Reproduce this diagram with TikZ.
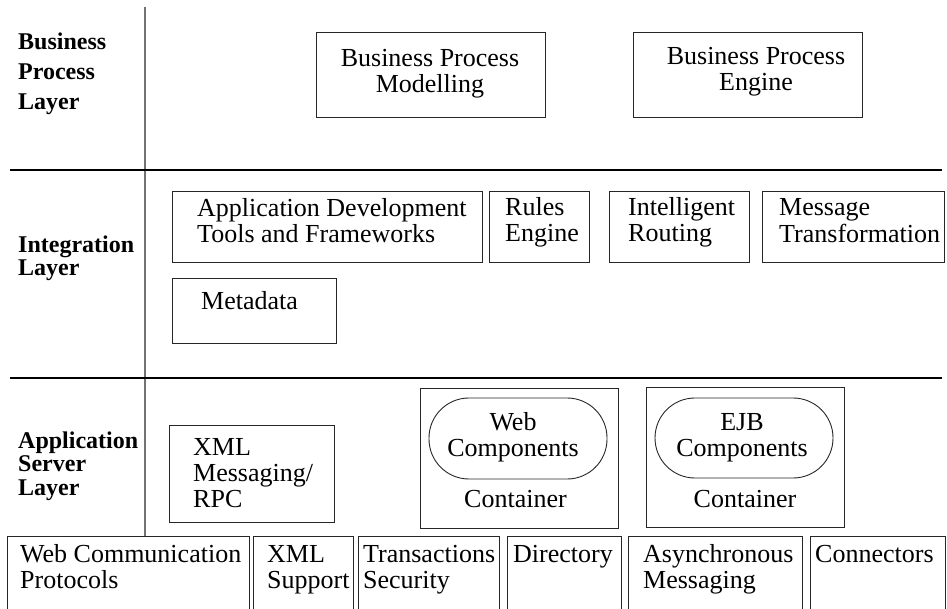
\documentclass[tikz,border=0pt]{standalone}
\usepackage{fontspec}
\setmainfont{Liberation Serif}
\newcommand\mylines[1]{\begin{tabular}[t]{@{}l@{}}#1\end{tabular}}
\newcommand\mycenter[1]{\begin{tabular}[t]{@{}c@{}}#1\end{tabular}}
\begin{document}
\begin{tikzpicture}[x=1pt,y=-1pt,
  box/.style={draw=black!85,line width=1pt,inner sep=0pt,fill=none},
  stadium/.style={draw=black!85,line width=0.9pt,inner sep=0pt,rounded corners=39.9pt},
  txt/.style={inner sep=0pt,anchor=base west,font=\fontsize{26}{26}\selectfont},
  ctxt/.style={inner sep=0pt,anchor=base,font=\fontsize{26}{26}\selectfont},
  lbl/.style={inner sep=0pt,anchor=base west},
  layerline/.style={line width=2.6pt,black},
  sepline/.style={line width=1.4pt,black!55}]
\useasboundingbox (0,0) rectangle (947,609);
\clip (0,0) rectangle (947,609);

% separators
\coordinate (vtop) at (145,7);
\coordinate (vbot) at (145,537);
\coordinate (h1l) at (10,170);
\coordinate (h1r) at (942,170);
\coordinate (h2l) at (10,378);
\coordinate (h2r) at (942,378);
\draw[sepline] (vtop) -- (vbot);
\draw[layerline] (h1l) -- (h1r);
\draw[layerline] (h2l) -- (h2r);

% layer labels
\node[lbl,font=\bfseries\fontsize{24}{30}\selectfont] (lbp) at (18,50) {\mylines{Business\\Process\\Layer}};
\node[lbl,font=\bfseries\fontsize{24}{22.5}\selectfont] (lint) at (18,253) {\mylines{Integration\\Layer}};
\node[lbl,font=\bfseries\fontsize{24}{23.5}\selectfont] (lapp) at (18,448) {\mylines{Application\\Server\\Layer}};

% business process layer
\node[box,minimum width=229pt,minimum height=85pt] (bpm) at (430.5,75.5) {};
\node[ctxt] (bpmt) at (430,66.5) {\mycenter{Business Process\\Modelling}};
\node[box,minimum width=229pt,minimum height=85pt] (bpe) at (747.5,75.5) {};
\node[ctxt] (bpet) at (756,65) {\mycenter{Business Process\\Engine}};

% integration layer
\node[box,minimum width=310pt,minimum height=71pt] (appdev) at (327,227.5) {};
\node[txt] (appdevt) at (197,216.5) {\mylines{Application Development\\Tools and Frameworks}};
\node[box,minimum width=100pt,minimum height=71pt] (rules) at (539,227.5) {};
\node[txt] (rulest) at (505,216) {\mylines{Rules\\Engine}};
\node[box,minimum width=140pt,minimum height=71pt] (routing) at (679,227.5) {};
\node[txt] (routingt) at (628,216) {\mylines{Intelligent\\Routing}};
\node[box,minimum width=182pt,minimum height=71pt] (transf) at (853,227.5) {};
\node[txt] (transft) at (779,216) {\mylines{Message\\Transformation}};
\node[box,minimum width=164pt,minimum height=64pt] (meta) at (254,311) {};
\node[txt] (metat) at (201,310) {Metadata};

% application server layer
\node[box,minimum width=165pt,minimum height=97pt] (xmlmsg) at (251.5,473.5) {};
\node[txt] (xmlmsgt) at (193,455) {\mylines{XML\\Messaging/\\RPC}};

\node[box,minimum width=198pt,minimum height=140pt] (webcont) at (519,458) {};
\node[stadium,minimum width=178pt,minimum height=81pt] (webcomp) at (518,438.5) {};
\node[ctxt] (webcompt) at (513,430) {\mycenter{Web\\Components}};
\node[ctxt] (webcontt) at (515.5,507) {Container};

\node[box,minimum width=198pt,minimum height=140pt] (ejbcont) at (745,457) {};
\node[stadium,minimum width=178pt,minimum height=80pt] (ejbcomp) at (744,438) {};
\node[ctxt] (ejbcompt) at (742,430) {\mycenter{EJB\\Components}};
\node[ctxt] (ejbcontt) at (745,507) {Container};

% bottom row
\node[box,minimum width=242pt,minimum height=104pt] (webcomm) at (128,588) {};
\node[txt] (webcommt) at (20,562) {\mylines{Web Communication\\Protocols}};
\node[box,minimum width=100pt,minimum height=104pt] (xmlsup) at (303,588) {};
\node[txt] (xmlsupt) at (267,562) {\mylines{XML\\Support}};
\node[box,minimum width=141pt,minimum height=104pt] (trans) at (428.5,588) {};
\node[txt] (transt) at (363,562) {\mylines{Transactions\\Security}};
\node[box,minimum width=114pt,minimum height=104pt] (dir) at (564,588) {};
\node[txt] (dirt) at (513,562) {Directory};
\node[box,minimum width=174pt,minimum height=104pt] (async) at (715,588) {};
\node[txt] (asynct) at (643,562) {\mylines{Asynchronous\\Messaging}};
\node[box,minimum width=135pt,minimum height=104pt] (conn) at (877.5,588) {};
\node[txt] (connt) at (815,562) {Connectors};
\end{tikzpicture}
\end{document}
